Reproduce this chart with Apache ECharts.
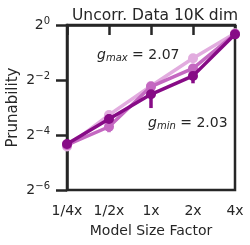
<!DOCTYPE html>
<html><head><meta charset="utf-8">
<script src="https://cdn.jsdelivr.net/npm/echarts@6/dist/echarts.min.js"></script>
<style>html,body{margin:0;padding:0;background:#fff}#c{width:250px;height:245px}</style>
</head><body><div id="c"></div>
<script>
// categories and values (log2 of prunability)
var categories = ['1/4x', '1/2x', '1x', '2x', '4x'];
var lightVals  = [-4.42, -3.27, -2.22, -1.21, -0.30];
var mediumVals = [-4.36, -3.70, -2.24, -1.58, -0.33];
var darkVals   = [-4.33, -3.42, -2.52, -1.85, -0.34];
// error bars: [categoryIndex, low, high]
var mediumErr = [[1, -3.90, -3.48]];
var darkErr   = [[1, -3.62, -3.25], [2, -3.02, -2.36], [3, -2.12, -1.70]];
var yTicks = [-6, -4, -2, 0];
var titleText = 'Uncorr. Data 10K dim';

var axisColor = '#262626';
var font = 'DejaVu Sans';

function errSeries(data, color){
  return {
    type: 'custom', data: data, z: 3,
    renderItem: function(params, api){
      var p1 = api.coord([api.value(0), api.value(1)]);
      var p2 = api.coord([api.value(0), api.value(2)]);
      return {type:'line', shape:{x1:p1[0],y1:p1[1],x2:p2[0],y2:p2[1]}, style:{stroke:color, lineWidth:3.5}};
    }
  };
}
function lineSeries(vals, color, z){
  return {type:'line', data: vals, z: z, symbol:'circle', symbolSize:10,
    lineStyle:{color:color, width:3.5}, itemStyle:{color:color}, animation:false};
}
var annRich = {
  g:{fontFamily:font, fontSize:14, fontStyle:'italic', fill:axisColor},
  s:{fontFamily:font, fontSize:10, fontStyle:'italic', fill:axisColor, padding:[7,0,0,0]},
  t:{fontFamily:font, fontSize:14, fill:axisColor}
};

var chart = echarts.init(document.getElementById('c'), null, {renderer:'canvas'});
chart.setOption({
  animation:false,
  title:{text:titleText, left:150, top:3, textAlign:'center',
    textStyle:{fontFamily:font, fontSize:15.5, fontWeight:'normal', color:axisColor}},
  grid:{left:67, right:15, top:25, bottom:55, show:true, borderColor:axisColor, borderWidth:2.5,
    containLabel:false, outerBoundsMode:'none'},
  xAxis:{type:'category', data:categories, boundaryGap:false,
    name:'Model Size Factor', nameLocation:'middle', nameGap:34, nameMoveOverlap:false,
    nameTextStyle:{fontFamily:font, fontSize:14, color:axisColor},
    axisLine:{lineStyle:{color:axisColor, width:2.5}},
    axisTick:{inside:false, length:10, lineStyle:{color:axisColor, width:2.5}, alignWithLabel:true},
    axisLabel:{fontFamily:font, fontSize:14, color:axisColor, margin:14},
    splitLine:{show:false}},
  yAxis:{type:'value', min:-6, max:0, interval:2,
    name:'Prunability', nameLocation:'middle', nameGap:46, nameMoveOverlap:false,
    nameTextStyle:{fontFamily:font, fontSize:15, color:axisColor},
    axisLine:{show:true, lineStyle:{color:axisColor, width:2.5}},
    axisTick:{show:true, length:11, lineStyle:{color:axisColor, width:2.5}},
    axisLabel:{fontFamily:font, color:axisColor, margin:17,
      formatter:function(v){return '{b|2}{s|' + String(v).replace('-', '\u2212') + '}';},
      rich:{b:{fontFamily:font, fontSize:14, color:axisColor},
            s:{fontFamily:font, fontSize:10, color:axisColor, verticalAlign:'top', padding:[0,0,8,0]}}},
    splitLine:{show:false}},
  graphic:[
    {type:'text', left:97, top:48, style:{rich:annRich, text:'{g|g}{s|max}{t| = 2.07}'}},
    {type:'text', left:148, top:116, style:{rich:annRich, text:'{g|g}{s|min}{t| = 2.03}'}}
  ],
  series:[
    lineSeries(lightVals, '#e2acdf', 2),
    lineSeries(mediumVals, '#c468c1', 3),
    errSeries(mediumErr, '#c468c1'),
    lineSeries(darkVals, '#870b86', 4),
    errSeries(darkErr, '#870b86')
  ]
});
</script></body></html>
